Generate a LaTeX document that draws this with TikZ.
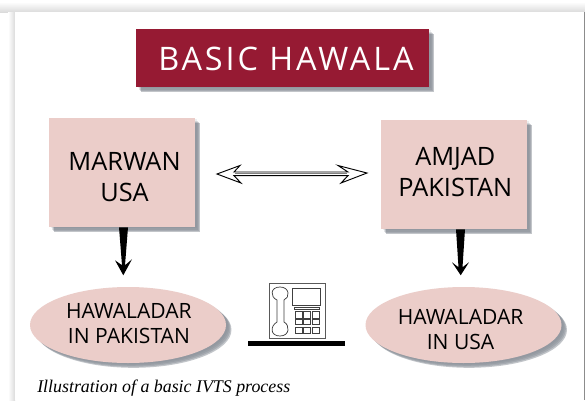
\documentclass[tikz,border=0pt]{standalone}
\usepackage{fontspec}
\setmainfont{Liberation Serif}
\newfontfamily\labelfont{Open Sans}
\newfontfamily\titlefont[LetterSpace=9]{Open Sans}
\usetikzlibrary{shapes.geometric,calc}
\definecolor{crimson}{HTML}{961A33}
\definecolor{blush}{HTML}{EBCDC9}
\definecolor{shade}{HTML}{5F6873}
% set text off the centre of its shape, by (dx,dy)
\newcommand{\placedtext}[3]{\raisebox{#2}[0pt][0pt]{\makebox[0pt]{\kern #1\kern #1\begin{tabular}{@{}c@{}}#3\end{tabular}}}}
\tikzset{
  softshadow/.style={
    preaction={fill=shade,opacity=.10,transform canvas={shift={(1.5pt,-1.0pt)}}},
    preaction={fill=shade,opacity=.18,transform canvas={shift={(2.4pt,-1.9pt)}}},
    preaction={fill=shade,opacity=.28,transform canvas={shift={(3.3pt,-2.8pt)}}},
    preaction={fill=shade,opacity=.38,transform canvas={shift={(4.1pt,-3.6pt)}}}},
  titlebox/.style={rectangle,fill=crimson,text=white,softshadow,inner sep=0pt,
    minimum width=219.75pt,minimum height=43.5pt,font=\titlefont\fontsize{24.3}{27}\selectfont},
  personbox/.style={rectangle,fill=blush,softshadow,inner sep=0pt,text=black,
    minimum width=109.5pt,minimum height=81.75pt,font=\labelfont\fontsize{19}{23.3}\selectfont},
  agent/.style={ellipse,fill=blush,softshadow,inner sep=0pt,text=black,
    minimum width=147pt,minimum height=57pt,font=\labelfont\fontsize{15.8}{18.9}\selectfont},
  caption/.style={inner sep=0pt,anchor=base west,font=\rmfamily\itshape\fontsize{13.4}{15}\selectfont},
  phoneline/.style={draw=black!75,line width=.55pt}
}
\begin{document}
\begin{tikzpicture}[x=.75pt,y=-.75pt]
\useasboundingbox (0,0) rectangle (585,400);
% page panel with its soft edge
\shade[top color=white,bottom color=black!14] (0,2) rectangle (585,12);
\shade[left color=white,right color=black!14] (8,12) rectangle (15,400);
\fill[black!45] (584,12) rectangle (585,400);
\fill[white] (15,12) rectangle (584,400);
% boxes
\node[titlebox] (title) at (282.5,58) {\placedtext{2.6pt}{-10.1pt}{BASIC HAWALA}};
\node[personbox] (marwan) at (122,172.5) {\placedtext{1.9pt}{-9.5pt}{MARWAN\\USA}};
\node[personbox] (amjad) at (454,174.5) {\placedtext{1pt}{-4.3pt}{AMJAD\\PAKISTAN}};
\node[agent] (hawpk) at (128,325) {\placedtext{.7pt}{-4.5pt}{HAWALADAR\\IN PAKISTAN}};
\node[agent] (hawus) at (463.5,325) {\placedtext{-2.2pt}{-8.6pt}{HAWALADAR\\IN USA}};
% tapered connectors
\coordinate (mtop) at (marwan.south);
\coordinate (atop) at (amjad.south);
\fill[black,shift={(mtop)}] (-3,0) -- (6,0) -- (3,38) -- (10,32) -- (1.3,48) -- (-7,33) -- (0,38) -- cycle;
\fill[black,shift={(atop)}] (2,0) -- (11,0) -- (8.5,38) -- (15,33) -- (6.7,46) -- (-2,33) -- (4.5,38) -- cycle;
% double open arrow between the two boxes
\coordinate (link) at ($(marwan.east)!.5!(amjad.west)$);
\draw[black,line width=.7pt,fill=white,shift={(link)}]
  (-71,.5) -- (-48,-8) -- (-54,-1.5) -- (60,-1.5) -- (50,-8) -- (79,-.5) -- (53,9.5) -- (60,2.2) -- (-54,2.2) -- (-47,9.5) -- cycle;
\draw[black!50,line width=.8pt,shift={(link)}] (-53,.4) -- (59,.4);
% telephone
\node[draw=black!65,line width=.7pt,inner sep=0pt,minimum width=42pt,minimum height=41pt] (phone) at (297,311) {};
\draw[phoneline] (277,305) -- (277,300) .. controls (270,297) and (270,287) .. (280,287) .. controls (290,287) and (290,298) .. (284,300) -- (284,322) .. controls (290,325) and (290,336) .. (280,336) .. controls (270,336) and (270,326) .. (277,322) -- cycle;
\draw[phoneline] (292,288) rectangle (320,305);
\draw[phoneline] (294,307) rectangle (319,309);
\foreach \r/\yy/\hh in {1/311/7,2/319/5.5,3/327/6}{
  \foreach \c/\xx/\ww in {1/295/7,2/303/7.5,3/312/7}{
    \draw[phoneline] (\xx,\yy) rectangle ++(\ww,\hh);
  }
}
\fill[black] (248,341) rectangle (345,346);
% caption
\node[caption] (cap) at (37,392) {Illustration of a basic IVTS process};
\end{tikzpicture}
\end{document}
